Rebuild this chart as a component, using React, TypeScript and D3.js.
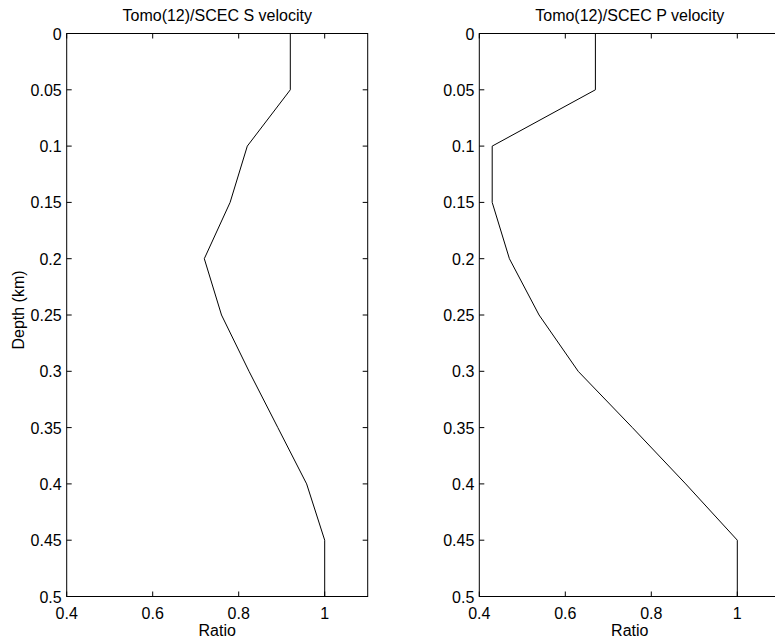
import React, { useEffect } from "react";
import * as d3 from "d3";

const depths = [0, 0.05, 0.1, 0.15, 0.2, 0.25, 0.3, 0.35, 0.4, 0.45, 0.5];
const sRatio = [0.92, 0.92, 0.82, 0.78, 0.72, 0.76, 0.824, 0.891, 0.958, 1.0, 1.0];
const pRatio = [0.67, 0.67, 0.43, 0.43, 0.47, 0.539, 0.63, 0.756, 0.88, 1.0, 1.0];
const xTicks = [0.4, 0.6, 0.8, 1];
const yTicks = [0, 0.05, 0.1, 0.15, 0.2, 0.25, 0.3, 0.35, 0.4, 0.45, 0.5];
const titles = ["Tomo(12)/SCEC S velocity", "Tomo(12)/SCEC P velocity"];

const W = 775;
const H = 643;
const FONT = "'Liberation Sans', Arial, Helvetica, sans-serif";
const FS = 16;

function Panel({ left, right, values, title, showYLabel }: any) {
  const top = 33.5;
  const bottom = 596.5;
  const x = d3.scaleLinear().domain([0.4, 1.1]).range([left, right]);
  const y = d3.scaleLinear().domain([0, 0.5]).range([top, bottom]);
  const line = d3
    .line<number>()
    .x((d) => x(d))
    .y((_, i) => y(depths[i]));
  const tl = 5;
  const fmt = (v: number) => (v === 0 ? "0" : v === 1 ? "1" : String(v));
  return (
    <g>
      <path d={line(values) || ""} fill="none" stroke="#000" strokeWidth={1} />
      {xTicks.map((t) => (
        <g key={"x" + t}>
          <line x1={x(t)} x2={x(t)} y1={bottom} y2={bottom - tl} stroke="#000" />
          <line x1={x(t)} x2={x(t)} y1={top} y2={top + tl} stroke="#000" />
          <text x={x(t)} y={619} textAnchor="middle" fontSize={FS} fontFamily={FONT}>
            {fmt(t)}
          </text>
        </g>
      ))}
      {yTicks.map((t) => (
        <g key={"y" + t}>
          <line x1={left} x2={left + tl} y1={y(t)} y2={y(t)} stroke="#000" />
          <line x1={right} x2={right - tl} y1={y(t)} y2={y(t)} stroke="#000" />
          <text
            x={left - 5}
            y={y(t) + 6}
            textAnchor="end"
            fontSize={FS}
            fontFamily={FONT}
          >
            {fmt(t)}
          </text>
        </g>
      ))}
      <rect
        x={left}
        y={top}
        width={right - left}
        height={bottom - top}
        fill="none"
        stroke="#000"
        strokeWidth={1}
      />
      <text
        x={(left + right) / 2}
        y={21}
        textAnchor="middle"
        fontSize={FS}
        fontFamily={FONT}
      >
        {title}
      </text>
      <text
        x={(left + right) / 2}
        y={636}
        textAnchor="middle"
        fontSize={FS}
        fontFamily={FONT}
      >
        Ratio
      </text>
      {showYLabel && (
        <text
          transform={`translate(23.5,310) rotate(-90)`}
          textAnchor="middle"
          fontSize={FS}
          fontFamily={FONT}
        >
          Depth (km)
        </text>
      )}
    </g>
  );
}

export default function App() {
  useEffect(() => {
    document.body.style.margin = "0";
  }, []);
  return (
    <svg
      width={W}
      height={H}
      style={{ display: "block", background: "#fff" }}
    >
      <rect x={0} y={0} width={W} height={H} fill="#fff" />
      <Panel left={66.7} right={367.7} values={sRatio} title={titles[0]} showYLabel />
      <Panel left={479.3} right={780.3} values={pRatio} title={titles[1]} showYLabel={false} />
    </svg>
  );
}
